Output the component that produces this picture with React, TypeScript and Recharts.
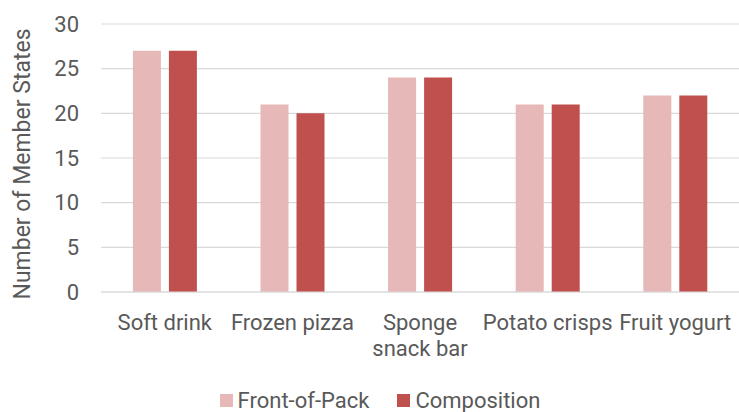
import React from "react";
import { BarChart, Bar, XAxis, YAxis, CartesianGrid, Legend, Label } from "recharts";

const categories = ["Soft drink", "Frozen pizza", "Sponge\nsnack bar", "Potato crisps", "Fruit yogurt"];
const frontOfPack = [27, 21, 24, 21, 22];
const composition = [27, 20, 24, 21, 22];
const yTicks = [0, 5, 10, 15, 20, 25, 30];
const seriesNames = ["Front-of-Pack", "Composition"];
const seriesColors = ["#E6B8B7", "#C0504D"];

const data = categories.map((c, i) => ({
  category: c,
  fop: frontOfPack[i],
  comp: composition[i],
}));

const FONT = "Roboto, 'Noto Sans', sans-serif";
const TEXT = "#595959";

const CategoryTick = (props: any) => {
  const { x, y, payload } = props;
  const lines = String(payload.value).split("\n");
  return (
    <text x={x} y={y} textAnchor="middle" fill={TEXT} fontFamily={FONT} fontSize={22}>
      {lines.map((l, i) => (
        <tspan key={i} x={x} dy={i === 0 ? 38 : 26}>
          {l}
        </tspan>
      ))}
    </text>
  );
};

const LegendContent = () => {
  return (
    <div
      style={{
        height: 30,
        display: "flex",
        justifyContent: "center",
        alignItems: "center",
        fontFamily: FONT,
        fontSize: 22,
        color: TEXT,
      }}
    >
      {seriesNames.map((name, i) => (
        <div key={i} style={{ display: "flex", alignItems: "center", marginRight: i === 0 ? 28 : 0 }}>
          <div style={{ width: 13, height: 13, background: seriesColors[i], marginRight: 5 }} />
          <span>{name}</span>
        </div>
      ))}
    </div>
  );
};

const YLabel = (props: any) => {
  const { viewBox } = props;
  const cx = viewBox.x + 22;
  const cy = viewBox.y + viewBox.height / 2 + 6;
  return (
    <text
      x={cx}
      y={cy}
      transform={`rotate(-90, ${cx}, ${cy})`}
      textAnchor="middle"
      dominantBaseline="central"
      fill={TEXT}
      fontFamily={FONT}
      fontSize={23}
    >
      Number of Member States
    </text>
  );
};

export default function App() {
  return (
    <div style={{ position: "absolute", left: 0, top: 0, width: 739, height: 412, background: "#fff" }}>
      <BarChart
        width={739}
        height={412}
        data={data}
        margin={{ top: 24, right: 0, left: 0, bottom: 10 }}
        barCategoryGap="25%"
        barGap={8}
      >
        <CartesianGrid vertical={false} stroke="#D9D9D9" strokeWidth={1.2} />
        <XAxis
          dataKey="category"
          interval={0}
          height={80}
          tickLine={false}
          tickSize={0}
          tickMargin={0}
          axisLine={{ stroke: "#D9D9D9", strokeWidth: 1.2 }}
          tick={<CategoryTick />}
        />
        <YAxis
          width={101}
          domain={[0, 30]}
          ticks={yTicks}
          axisLine={false}
          tickLine={false}
          tickSize={0}
          tickMargin={22}
          tick={{ fill: TEXT, fontFamily: FONT, fontSize: 22 }}
        >
          <Label content={<YLabel />} />
        </YAxis>
        <Legend
          verticalAlign="bottom"
          content={<LegendContent />}
          wrapperStyle={{ left: 20, width: 720, top: 385, bottom: "auto" }}
        />
        <Bar dataKey="fop" name={seriesNames[0]} fill={seriesColors[0]} isAnimationActive={false} />
        <Bar dataKey="comp" name={seriesNames[1]} fill={seriesColors[1]} isAnimationActive={false} />
      </BarChart>
    </div>
  );
}
